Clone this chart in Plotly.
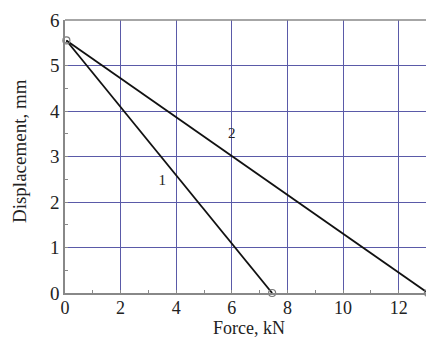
import plotly.graph_objects as go

force_1 = [0.05, 7.45]
disp_1 = [5.55, 0.0]
force_2 = [0.05, 13.05]
disp_2 = [5.55, 0.0]
label_text = ["1", "2"]
label_x = [3.5, 6.0]
label_y = [2.45, 3.5]
x_ticks = [0, 2, 4, 6, 8, 10, 12]
y_ticks = [0, 1, 2, 3, 4, 5, 6]
x_title = "Force, kN"
y_title = "Displacement, mm"

FONT = "Liberation Serif, Times New Roman, Times, serif"

fig = go.Figure()
for fx, dy in [(force_1, disp_1), (force_2, disp_2)]:
    fig.add_trace(go.Scatter(x=fx, y=dy, mode="lines",
                             line=dict(color="#111111", width=1.8),
                             showlegend=False, hoverinfo="skip", cliponaxis=False))
# open circles at the ends
fig.add_trace(go.Scatter(x=[force_1[0], force_1[1], force_2[1]],
                         y=[disp_1[0], disp_1[1], disp_2[1]],
                         mode="markers", cliponaxis=False,
                         marker=dict(symbol="circle-open", size=7, color="#777777", line=dict(width=1.2)),
                         showlegend=False, hoverinfo="skip"))
fig.add_trace(go.Scatter(x=label_x, y=label_y, mode="text", text=label_text,
                         textfont=dict(family=FONT, size=15, color="#222"),
                         showlegend=False, hoverinfo="skip"))

axis_common = dict(
    showgrid=True, gridcolor="#5a5aa8", gridwidth=1.2,
    showline=True, linecolor="#888888", linewidth=1.5,
    ticks="inside", ticklen=3, tickcolor="#888888",
    zeroline=False,
)
fig.update_xaxes(range=[0, 13.2], tickvals=x_ticks, ticktext=[str(v) for v in x_ticks],
                 minor=dict(ticks="inside", ticklen=3, tickcolor="#888888", dtick=1, tick0=0, showgrid=False),
                 ticklabelstandoff=-2, tickfont=dict(family=FONT, size=18, color="#222"),
                 **axis_common)
fig.update_yaxes(range=[0, 6], tickvals=y_ticks, ticktext=[str(v) for v in y_ticks],
                 minor=dict(ticks="inside", ticklen=3, tickcolor="#888888", dtick=0.5, tick0=0, showgrid=False),
                 tickfont=dict(family=FONT, size=19, color="#222"),
                 **axis_common)
# top border line
fig.add_shape(type="line", xref="paper", yref="paper", x0=0, x1=1, y0=1, y1=1,
              line=dict(color="#888888", width=1.5))

plot_w = 426 - 57 - 2
plot_h = 330 - 12 - 45
fig.add_annotation(text=x_title, xref="paper", yref="paper", x=0.5, y=-35 / plot_h,
                   xanchor="center", yanchor="middle", showarrow=False,
                   font=dict(family=FONT, size=18, color="#222"))
fig.add_annotation(text=y_title, xref="paper", yref="paper", x=-46 / plot_w, y=0.52,
                   xanchor="center", yanchor="middle", showarrow=False, textangle=-90,
                   font=dict(family=FONT, size=19, color="#222"))

fig.update_layout(width=426, height=330, margin=dict(l=57, r=2, t=12, b=45),
                  plot_bgcolor="white", paper_bgcolor="white")
fig.write_html("out.html")
